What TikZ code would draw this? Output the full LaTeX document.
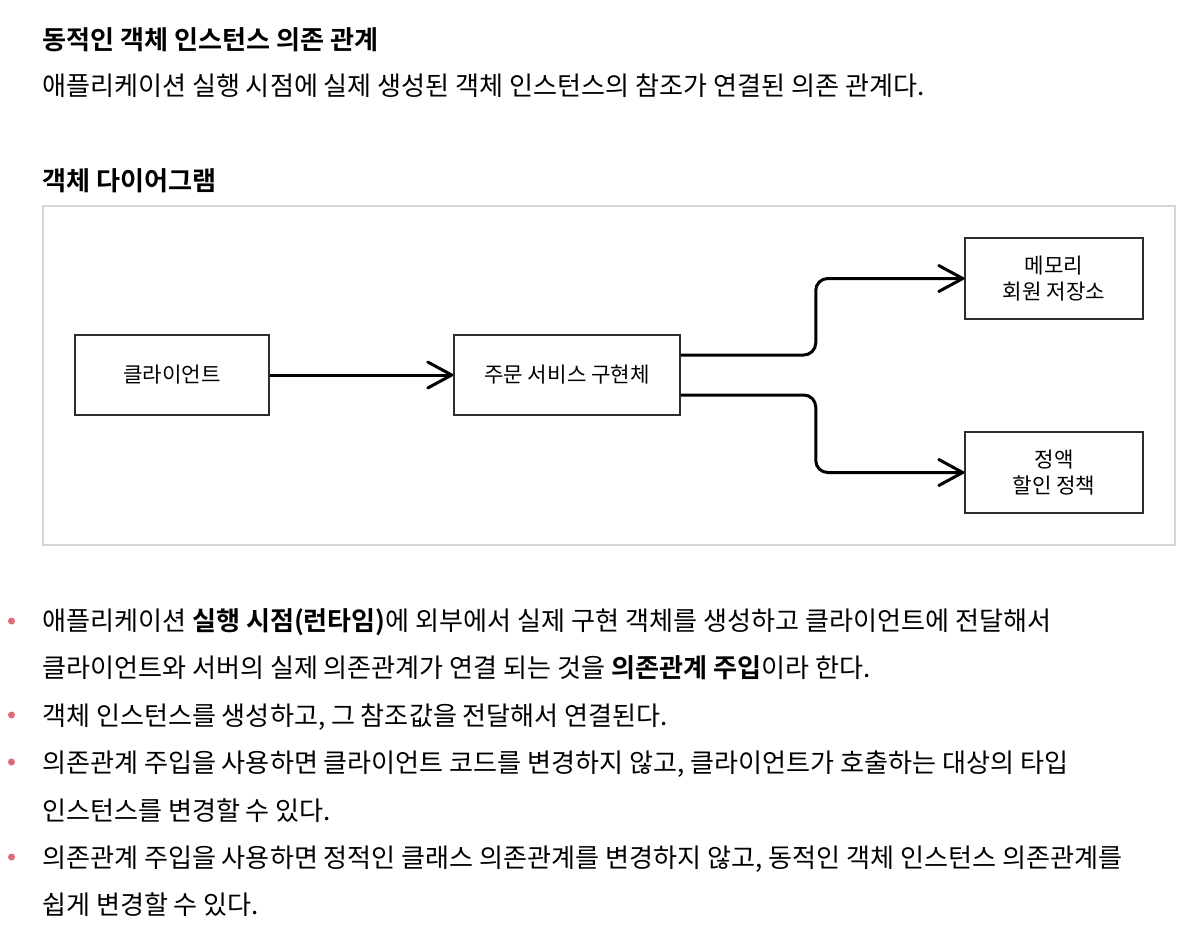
\documentclass[tikz,border=0pt]{standalone}
\usepackage{fontspec}
\setmainfont{Noto Sans CJK KR}[BoldFont={Noto Sans CJK KR Bold}]
\usetikzlibrary{arrows.meta}
\definecolor{framegray}{RGB}{214,214,214}
\definecolor{boxline}{RGB}{45,45,45}
\definecolor{bulletred}{RGB}{222,107,120}
\tikzset{
  bodytext/.style={anchor=base west, inner sep=0pt, font=\fontsize{26.1}{30}\selectfont, text=black},
  headtext/.style={bodytext, font=\fontsize{26.1}{30}\selectfont\bfseries},
  objbox/.style={draw=boxline, line width=1.5pt, fill=white, inner sep=0pt, align=center,
    font=\fontsize{21.2}{26}\selectfont},
  conn/.style={line width=3pt, black, rounded corners=12pt,
    -{Straight Barb[length=24pt,width=26pt,line cap=round,line join=round]}},
  bulletdot/.style={circle, fill=bulletred, inner sep=0pt, minimum size=7pt}
}
\begin{document}
\begin{tikzpicture}[x=1pt,y=-1pt]
\useasboundingbox (0,0) rectangle (1188,938);
\fill[white] (0,0) rectangle (1188,938);

\node[headtext] (title) at (42,49) {동적인 객체 인스턴스 의존 관계};
\node[bodytext] (desc) at (42,95) {애플리케이션 실행 시점에 실제 생성된 객체 인스턴스의 참조가 연결된 의존 관계다.};
\node[headtext] (objhead) at (42,190) {객체 다이어그램};

% diagram frame
\draw[framegray, line width=2pt] (43,206) rectangle (1175,545);

\node[objbox, minimum width=194pt, minimum height=80pt] (client) at (172,375) {클라이언트};
\node[objbox, minimum width=226pt, minimum height=80pt] (svc) at (567,375) {주문 서비스 구현체};
\node[objbox, minimum width=178pt, minimum height=81pt] (mem) at (1054,278.5) {메모리\\회원 저장소};
\node[objbox, minimum width=178pt, minimum height=81pt] (disc) at (1054,472.5) {정액\\할인 정책};

\draw[conn] (client.east) -- (svc.west);
\draw[conn] ([yshift=20pt]svc.east) -- ++(135,0) |- (mem.west);
\draw[conn] ([yshift=-20pt]svc.east) -- ++(135,0) |- (disc.west);

% bullets
\node[bulletdot] (b1) at (11.5,621) {};
\node[bodytext] (l1) at (42,630) {애플리케이션 \textbf{실행 시점(런타임)}에 외부에서 실제 구현 객체를 생성하고 클라이언트에 전달해서};
\node[bodytext] (l2) at (42,677) {클라이언트와 서버의 실제 의존관계가 연결 되는 것을 \textbf{의존관계 주입}이라 한다.};
\node[bulletdot] (b2) at (11.5,715) {};
\node[bodytext] (l3) at (42,725) {객체 인스턴스를 생성하고, 그 참조값을 전달해서 연결된다.};
\node[bulletdot] (b3) at (11.5,762) {};
\node[bodytext] (l4) at (42,772) {의존관계 주입을 사용하면 클라이언트 코드를 변경하지 않고, 클라이언트가 호출하는 대상의 타입};
\node[bodytext] (l5) at (42,820) {인스턴스를 변경할 수 있다.};
\node[bulletdot] (b4) at (11.5,857) {};
\node[bodytext] (l6) at (42,867) {의존관계 주입을 사용하면 정적인 클래스 의존관계를 변경하지 않고, 동적인 객체 인스턴스 의존관계를};
\node[bodytext] (l7) at (42,914) {쉽게 변경할 수 있다.};
\end{tikzpicture}
\end{document}
